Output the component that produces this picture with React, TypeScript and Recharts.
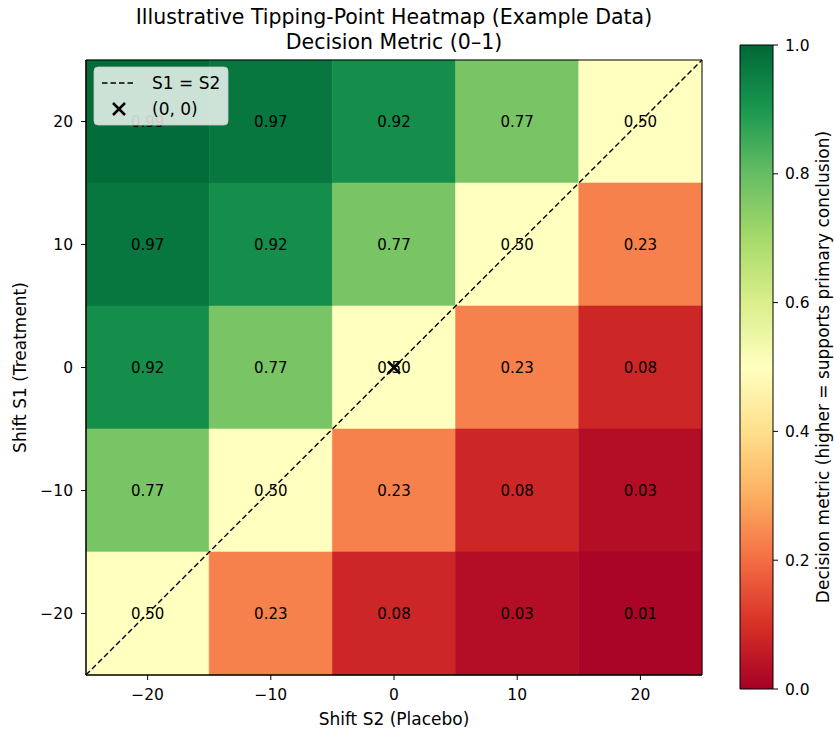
import {
  ScatterChart,
  Scatter,
  XAxis,
  YAxis,
  ReferenceArea,
  ReferenceLine,
} from 'recharts';

// axes
const shiftS2 = [-20, -10, 0, 10, 20]; // placebo (x)
const shiftS1 = [20, 10, 0, -10, -20]; // treatment (y), top row first

// decision metric, one row per S1 value (top to bottom)
const metricRows = [
  [0.99, 0.97, 0.92, 0.77, 0.5],
  [0.97, 0.92, 0.77, 0.5, 0.23],
  [0.92, 0.77, 0.5, 0.23, 0.08],
  [0.77, 0.5, 0.23, 0.08, 0.03],
  [0.5, 0.23, 0.08, 0.03, 0.01],
];

const colorbarTicks = [0, 0.2, 0.4, 0.6, 0.8, 1.0];
const colorbarEnds = [{ x: 0, y: 0 }, { x: 1, y: 1 }];

// RdYlGn
const rdYlGn = [
  '#a50026', '#d73027', '#f46d43', '#fdae61', '#fee08b', '#ffffbf',
  '#d9ef8b', '#a6d96a', '#66bd63', '#1a9850', '#006837',
];

const hexToRgb = (h: string) => [
  parseInt(h.slice(1, 3), 16),
  parseInt(h.slice(3, 5), 16),
  parseInt(h.slice(5, 7), 16),
];

const cmap = (v: number) => {
  const t = Math.max(0, Math.min(1, v)) * (rdYlGn.length - 1);
  const i = Math.min(Math.floor(t), rdYlGn.length - 2);
  const f = t - i;
  const a = hexToRgb(rdYlGn[i]);
  const b = hexToRgb(rdYlGn[i + 1]);
  const c = a.map((x, k) => Math.round(x + (b[k] - x) * f));
  return `rgb(${c[0]},${c[1]},${c[2]})`;
};

const cells = shiftS1.flatMap((s1, r) =>
  shiftS2.map((s2, c) => ({ x: s2, y: s1, v: metricRows[r][c] }))
);

const FONT = '"DejaVu Sans", sans-serif';
const minus = (v: number) => String(v).replace('-', '\u2212');

const CellText = (props: any) => {
  const { cx, cy, payload } = props;
  return (
    <text x={cx} y={cy} dy={5.5} textAnchor="middle" fontSize={15} fontFamily={FONT} fill="#000">
      {payload.v.toFixed(2)}
    </text>
  );
};

const XMark = (props: any) => {
  const { cx, cy } = props;
  const s = 6;
  return (
    <g stroke="#000" strokeWidth={2.5}>
      <line x1={cx - s} y1={cy - s} x2={cx + s} y2={cy + s} />
      <line x1={cx - s} y1={cy + s} x2={cx + s} y2={cy - s} />
    </g>
  );
};

const Nothing = () => <g />;

const tickStyle = { fontSize: 15.5, fill: '#000', fontFamily: FONT };
const labelFont = { fontSize: 17, fill: '#000', fontFamily: FONT };

export default function App() {
  return (
    <div style={{ position: 'absolute', left: 0, top: 0, width: 834, height: 730, background: '#fff', fontFamily: FONT }}>
      <div style={{ position: 'absolute', left: 0, width: 788, top: 5, textAlign: 'center', fontSize: 20.5, lineHeight: '25px', color: '#000' }}>
        Illustrative Tipping-Point Heatmap (Example Data)
        <br />
        Decision Metric (0–1)
      </div>

      <div style={{ position: 'absolute', left: 0, top: 0 }}>
        <ScatterChart width={834} height={730} margin={{ top: 60, right: 132, bottom: 25, left: 10 }}>
          <XAxis
            type="number"
            dataKey="x"
            domain={[-25, 25]}
            ticks={shiftS2}
            tickFormatter={minus}
            height={30}
            tick={tickStyle}
            tickSize={5}
            tickMargin={9}
            stroke="#000"
            allowDataOverflow
            label={{ value: 'Shift S2 (Placebo)', position: 'bottom', offset: 8, ...labelFont }}
          />
          <YAxis
            type="number"
            dataKey="y"
            domain={[-25, 25]}
            ticks={[...shiftS1].reverse()}
            tickFormatter={minus}
            width={76}
            tick={tickStyle}
            tickSize={5}
            tickMargin={8}
            stroke="#000"
            allowDataOverflow
            label={{ value: 'Shift S1 (Treatment)', angle: -90, position: 'insideLeft', offset: 10, ...labelFont, style: { textAnchor: 'middle' } }}
          />
          {cells.map((d) => (
            <ReferenceArea
              key={`${d.x}_${d.y}`}
              x1={d.x - 5}
              x2={d.x + 5}
              y1={d.y - 5}
              y2={d.y + 5}
              fill={cmap(d.v)}
              fillOpacity={1}
              stroke={cmap(d.v)}
              strokeWidth={0.6}
            />
          ))}
          <ReferenceArea x1={-25} x2={25} y1={-25} y2={25} fill="none" stroke="#000" strokeWidth={1} />
          <ReferenceLine
            segment={[{ x: -25, y: -25 }, { x: 25, y: 25 }]}
            stroke="#000"
            strokeWidth={1.4}
            strokeDasharray="5.5 3"
          />
          <Scatter data={cells} shape={CellText} isAnimationActive={false} />
          <Scatter data={[{ x: 0, y: 0 }]} shape={XMark} isAnimationActive={false} />
        </ScatterChart>
      </div>

      {/* legend */}
      <svg width={136} height={60} style={{ position: 'absolute', left: 93, top: 66 }}>
        <rect x={1} y={1} width={134} height={58} rx={4} fill="#fff" fillOpacity={0.8} stroke="#cccccc" strokeOpacity={0.8} />
        <line x1={9} y1={17} x2={42} y2={17} stroke="#000" strokeWidth={1.4} strokeDasharray="5.5 3" />
        <text x={59} y={23} fontSize={17} fontFamily={FONT} fill="#000">S1 = S2</text>
        <g stroke="#000" strokeWidth={2.5}>
          <line x1={20} y1={37} x2={32} y2={49} />
          <line x1={20} y1={49} x2={32} y2={37} />
        </g>
        <text x={59} y={49} fontSize={17} fontFamily={FONT} fill="#000">(0, 0)</text>
      </svg>

      {/* colorbar */}
      <div style={{ position: 'absolute', left: 700, top: 0 }}>
        <ScatterChart width={134} height={730} margin={{ top: 45, right: 21, bottom: 41, left: 40 }}>
          <defs>
            <linearGradient id="cbGrad" x1="0" y1="0" x2="0" y2="1">
              {rdYlGn.map((c, i) => (
                <stop key={c} offset={`${(1 - i / (rdYlGn.length - 1)) * 100}%`} stopColor={c} />
              )).reverse()}
            </linearGradient>
          </defs>
          <XAxis type="number" dataKey="x" domain={[0, 1]} hide />
          <YAxis
            type="number"
            dataKey="y"
            orientation="right"
            domain={[0, 1]}
            ticks={colorbarTicks}
            tickFormatter={(v: number) => v.toFixed(1)}
            width={40}
            tick={tickStyle}
            tickSize={5}
            tickMargin={7}
            stroke="#000"
            axisLine={false}
            label={{ value: 'Decision metric (higher = supports primary conclusion)', angle: -90, position: 'right', offset: 10, ...labelFont, style: { textAnchor: 'middle' } }}
          />
          <ReferenceArea x1={0} x2={1} y1={0} y2={1} fill="url(#cbGrad)" fillOpacity={1} stroke="#000" strokeWidth={1} />
          <Scatter data={colorbarEnds} shape={Nothing} isAnimationActive={false} />
        </ScatterChart>
      </div>
    </div>
  );
}
